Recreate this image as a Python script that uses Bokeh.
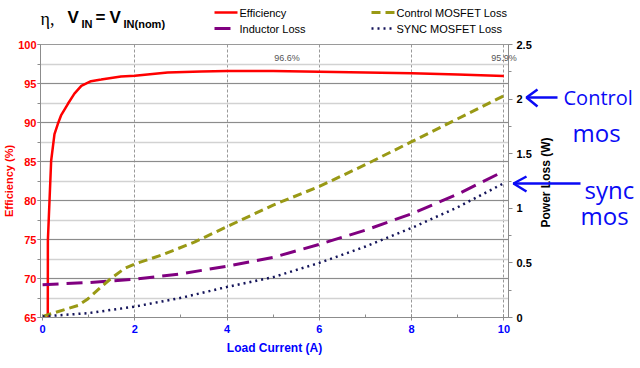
import math
from bokeh.plotting import figure
from bokeh.models import (Range1d, LinearAxis, SingleIntervalTicker, FixedTicker, CustomJSTickFormatter)
from bokeh.core.properties import value
from bokeh.embed import file_html
from bokeh.resources import INLINE

# ---------------- data ----------------
eff_x = [0.113, 0.115, 0.186, 0.258, 0.33, 0.40, 0.55, 0.69, 0.84, 1.05, 1.27, 1.70, 2.0, 2.71, 3.44,
         4.0, 5.0, 6.0, 7.0, 8.0, 9.0, 10.0]
eff_y = [65.0, 74.9, 85.1, 88.5, 89.8, 90.9, 92.4, 93.7, 94.7, 95.3, 95.5, 95.9, 96.0, 96.4, 96.55,
         96.6, 96.6, 96.5, 96.4, 96.3, 96.15, 95.95]

ctrl_x = [0.0, 0.77, 0.98, 1.27, 1.49, 1.78, 2.0, 2.57, 3.29, 4.09, 5.0, 6.0, 7.0, 8.0, 9.0, 10.0]
ctrl_w = [0.01, 0.11, 0.17, 0.28, 0.36, 0.45, 0.49, 0.57, 0.69, 0.85, 1.03, 1.20, 1.40, 1.61, 1.82, 2.03]

loss_x = [0, 1, 2, 3, 4, 5, 6, 7, 8, 9, 10]
ind_w = [0.30, 0.32, 0.35, 0.40, 0.47, 0.55, 0.67, 0.80, 0.95, 1.13, 1.34]
sync_w = [0.01, 0.04, 0.10, 0.18, 0.28, 0.37, 0.50, 0.65, 0.82, 1.01, 1.23]

xgrid_ticks = [2, 4, 6, 8, 10]
peak_x = [5.3, 10.0]
peak_text = ["96.6%", "95.9%"]

series_names = ["Efficiency", "Inductor Loss", "Control MOSFET Loss", "SYNC MOSFET Loss"]

# ---------------- geometry helpers (screen px of reference -> data) ----------------
XS, XE = -0.045, 10.1
FL, FR, FT, FB = 36, 504, 44, 317
KX = (FR - FL) / (XE - XS)
KY = (FB - FT) / 35.0


def dx(px):
    return XS + (px - FL) / KX


def dy(py):
    return 100 - (py - FT) / KY


RED = "#ff0000"
BLUE_AX = "#0000ff"
OLIVE = "#999915"
PURPLE = "#800080"
NAVY = "#14145a"
HAND = "#0a0af5"
FONT = "Liberation Sans"

p = figure(frame_width=FR - FL, frame_height=FB - FT,
           min_border_left=FL, min_border_right=640 - FR, min_border_top=FT, min_border_bottom=368 - FB,
           x_range=Range1d(XS, XE), y_range=Range1d(65, 100),
           output_backend="svg", toolbar_location=None,
           background_fill_color="white", border_fill_color="white")
p.extra_y_ranges = {"loss": Range1d(0, 2.5)}
p.outline_line_color = "#9a9a9a"

# grids
p.ygrid.ticker = SingleIntervalTicker(interval=5, num_minor_ticks=2)
p.ygrid.grid_line_color = "#8c8c8c"
p.ygrid.grid_line_width = 1
p.ygrid.minor_grid_line_color = "#d2d2d2"
p.ygrid.minor_grid_line_width = 1.5
p.xgrid.ticker = FixedTicker(ticks=xgrid_ticks)
p.xgrid.grid_line_color = "#999999"
p.xgrid.grid_line_dash = "3 2"

# left axis
ya = p.yaxis[0]
ya.ticker = SingleIntervalTicker(interval=5, num_minor_ticks=2)
ya.axis_line_color = "#8c8c8c"
ya.major_tick_line_color = "#8c8c8c"
ya.minor_tick_line_color = "#8c8c8c"
ya.major_tick_in = 0
ya.major_tick_out = 3
ya.minor_tick_in = 0
ya.minor_tick_out = 3
ya.major_label_standoff = 1
ya.major_label_text_color = RED
ya.major_label_text_font = FONT
ya.major_label_text_font_style = "bold"
ya.major_label_text_font_size = "11px"
ya.axis_label = "Efficiency (%)"
ya.axis_label_text_color = RED
ya.axis_label_text_font = FONT
ya.axis_label_text_font_style = "bold"
ya.axis_label_text_font_size = "11px"
ya.axis_label_standoff = 0

# bottom axis
xa = p.xaxis[0]
xa.ticker = SingleIntervalTicker(interval=2, num_minor_ticks=2)
xa.axis_line_color = "#8c8c8c"
xa.major_tick_line_color = "#8c8c8c"
xa.minor_tick_line_color = "#8c8c8c"
xa.major_tick_in = 3
xa.major_tick_out = 3
xa.minor_tick_in = 3
xa.minor_tick_out = 0
xa.major_label_standoff = 4
xa.major_label_text_color = BLUE_AX
xa.major_label_text_font = FONT
xa.major_label_text_font_style = "bold"
xa.major_label_text_font_size = "11px"
xa.axis_label = "Load Current (A)"
xa.axis_label_text_color = BLUE_AX
xa.axis_label_text_font = FONT
xa.axis_label_text_font_style = "bold"
xa.axis_label_text_font_size = "12px"
xa.axis_label_standoff = 5

# right axis
ra = LinearAxis(y_range_name="loss", ticker=SingleIntervalTicker(interval=0.5, num_minor_ticks=2),
                formatter=CustomJSTickFormatter(code="return String(Math.round(tick*100)/100);"))
ra.axis_line_color = "#8c8c8c"
ra.major_tick_line_color = "#8c8c8c"
ra.minor_tick_line_color = "#8c8c8c"
ra.major_tick_in = 0
ra.major_tick_out = 4
ra.minor_tick_in = 0
ra.minor_tick_out = 3
ra.major_label_standoff = 4
ra.major_label_text_color = "black"
ra.major_label_text_font = FONT
ra.major_label_text_font_style = "bold"
ra.major_label_text_font_size = "11px"
p.add_layout(ra, "right")

# ---------------- series ----------------
styles = [dict(line_color=RED, line_width=2.5),
          dict(line_color=PURPLE, line_width=3, line_dash="16 8"),
          dict(line_color=OLIVE, line_width=3, line_dash="9 5"),
          dict(line_color=NAVY, line_width=2.5, line_dash="2 4")]

p.line(eff_x, eff_y, **styles[0])
p.line(loss_x, ind_w, y_range_name="loss", **styles[1])
p.line(ctrl_x, ctrl_w, y_range_name="loss", **styles[2])
p.line(loss_x, sync_w, y_range_name="loss", **styles[3])


def lab(txt, px, py, size, font=FONT, style="bold", color="black", align="left", angle=0.0):
    p.text(x=[dx(px)], y=[dy(py)], text=[txt], text_font=value(font), text_font_style=style,
           text_font_size=size, text_color=color, text_align=align,
           text_baseline="middle", angle=angle, level="overlay")


p.text(x=peak_x, y=[dy(57)] * len(peak_x), text=peak_text, text_align="center", text_baseline="middle",
       text_font=value(FONT), text_font_size="9px", text_color="#555555", level="overlay")

# legend: two columns of (sample line, label) above the plot
leg_pos = [(210, 12), (210, 28), (367, 12), (367, 28)]
for (lx, ly), name, st in zip(leg_pos, series_names, styles):
    p.line([dx(lx), dx(lx + 23)], [dy(ly), dy(ly)], level="overlay", **st)
    lab(name, lx + 25, ly, "11px", style="normal")

# title pieces
lab("η,", 36, 18, "18px", font="Liberation Serif", style="normal")
lab("V", 63, 17, "17px")
lab("IN", 77, 23.5, "11px")
lab("=", 91, 17, "17px")
lab("V", 105, 17, "17px")
lab("IN(nom)", 119, 23.5, "11px")

# right axis title
lab("Power Loss (W)", 541, 182, "12px", color="black", align="center", angle=math.pi / 2)

# handwritten notes
lab("Control", 559, 97, "20px", font="Open Sans", style="normal", color=HAND)
lab("mos", 568, 132, "24px", font="Open Sans", style="normal", color=HAND)
lab("sync", 580, 189, "24px", font="Open Sans", style="normal", color=HAND)
lab("mos", 576, 215, "24px", font="Open Sans", style="normal", color=HAND)

arrow_xs = [[dx(553), dx(522)], [dx(533), dx(522), dx(533)],
            [dx(576), dx(509)], [dx(522), dx(509), dx(522)]]
arrow_ys = [[dy(97), dy(97)], [dy(89), dy(97), dy(106)],
            [dy(183), dy(183)], [dy(176), dy(183), dy(191)]]
p.multi_line(xs=arrow_xs, ys=arrow_ys, line_color=HAND, line_width=2.5, level="overlay")

open("out.html", "w").write(file_html(p, INLINE))
